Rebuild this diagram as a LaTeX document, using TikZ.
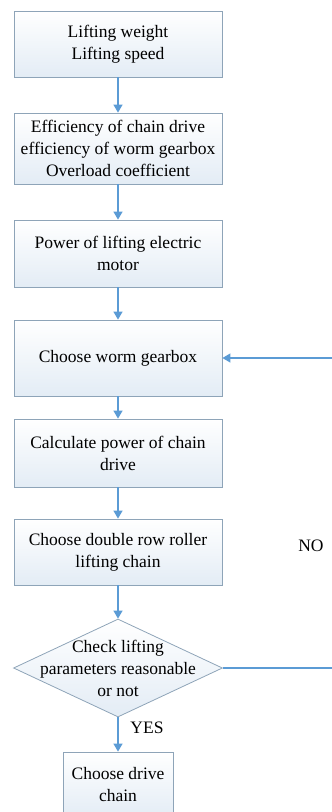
\documentclass[tikz,border=0pt]{standalone}
\usepackage{fontspec}
\setmainfont{Liberation Serif}
\usetikzlibrary{shapes.geometric,arrows.meta}
\definecolor{boxline}{HTML}{8EA4B8}
\definecolor{boxfill}{HTML}{E3ECF5}
\definecolor{flowblue}{HTML}{5B9BD5}

\begin{document}
\begin{tikzpicture}[x=1pt,y=-1pt,every node/.style={align=center,font=\rmfamily\fontsize{17.5}{22}\selectfont},
	stepbox/.style={draw=boxline,line width=0.8pt,top color=white,bottom color=boxfill,minimum width=208pt,minimum height=66pt,inner sep=2pt},
	decision/.style={diamond,draw=boxline,line width=0.8pt,top color=white,bottom color=boxfill,minimum width=209pt,minimum height=98pt,inner sep=0pt,aspect=2.13},
	flow/.style={draw=flowblue,line width=1.3pt,-{Triangle[length=8pt,width=9pt]}}]
			\clip (0,0) rectangle (332,812);
			\node [stepbox] (load) at (118,44) {Lifting weight\\Lifting speed};
			\node [stepbox,minimum height=71pt] (coef) at (118,148.5) {Efficiency of chain drive\\efficiency of worm gearbox\\Overload coefficient};
			\node [stepbox,minimum height=67pt] (motor) at (118,253.5) {Power of lifting electric\\motor};
			\node [stepbox,minimum height=76pt] (gearbox) at (118,358) {Choose worm gearbox};
			\node [stepbox,minimum height=68pt] (chainpow) at (118,453) {Calculate power of chain\\drive};
			\node [stepbox] (liftchain) at (118,552) {Choose double row roller\\lifting chain};
			\node [decision] (check) at (118,668) {};
			\node (checktext) at (check) {Check lifting\\parameters reasonable\\or not};
			\node [stepbox,minimum width=110pt] (drive) at (118,785) {Choose drive\\chain};
			\node (no) at (311,546) {NO};
			\node (yes) at (147,728) {YES};
			\coordinate (loopcorner) at (336,0);
			\draw [flow] (load) -- (coef);
			\draw [flow] (coef) -- (motor);
			\draw [flow] (motor) -- (gearbox);
			\draw [flow] (gearbox) -- (chainpow);
			\draw [flow] (chainpow) -- (liftchain);
			\draw [flow] (liftchain) -- (check);
			\draw [flow] (check) -- (drive);
			\draw [flow] (check.east) -- (check.east -| loopcorner) -- (gearbox.east -| loopcorner) -- (gearbox.east);
		\end{tikzpicture}
\end{document}
